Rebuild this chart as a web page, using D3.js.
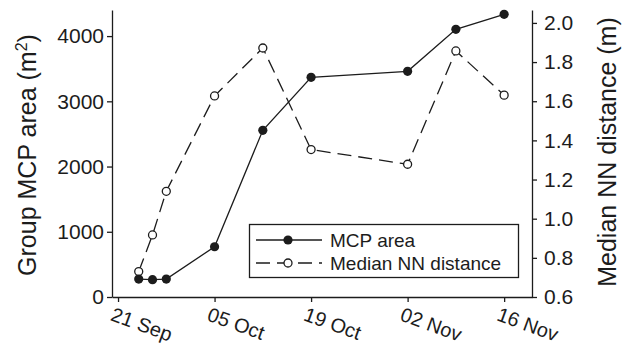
<!DOCTYPE html>
<html>
<head>
<meta charset="utf-8">
<script src="https://cdn.jsdelivr.net/npm/d3@7"></script>
<style>
  html, body { margin: 0; padding: 0; background: #fff; }
  svg { display: block; font-family: "Liberation Sans", Arial, Helvetica, sans-serif; }
</style>
</head>
<body>
<svg id="chart" width="630" height="347"></svg>
<script>
// Sampling dates (day, month index) and the two measured series
const sampleDates = [[24, 8], [26, 8], [28, 8], [5, 9], [12, 9], [19, 9], [2, 10], [9, 10], [16, 10]];
const mcpArea = [275, 265, 275, 770, 2555, 3368, 3460, 4104, 4334];
const nnDistance = [0.73, 0.917, 1.14, 1.627, 1.872, 1.353, 1.278, 1.857, 1.631];

// Axis ticks
const dateTicks = [[21, 8], [5, 9], [19, 9], [2, 10], [16, 10]];
const dateTickLabels = ["21 Sep", "05 Oct", "19 Oct", "02 Nov", "16 Nov"];
const leftTicks = [0, 1000, 2000, 3000, 4000];
const rightTicks = [0.6, 0.8, 1.0, 1.2, 1.4, 1.6, 1.8, 2.0];

const YEAR = 2010;
const toDate = ([d, m]) => new Date(Date.UTC(YEAR, m, d));

const svg = d3.select("#chart");
const ink = "#1c1c1c";

const plot = { left: 112, right: 532, top: 10, bottom: 297 };

const x = d3.scaleUtc()
  .domain([new Date(Date.UTC(YEAR, 8, 20, 3)), new Date(Date.UTC(YEAR, 10, 20, 1))])
  .range([plot.left, plot.right]);
const yL = d3.scaleLinear().domain([0, 4400]).range([plot.bottom, plot.top]);
const yR = d3.scaleLinear().domain([0.6, 2.066]).range([plot.bottom, plot.top]);

const rows = sampleDates.map((d, i) => ({ date: toDate(d), mcp: mcpArea[i], nn: nnDistance[i] }));

// Bottom axis with slanted date labels
const xAxis = svg.append("g")
  .attr("transform", `translate(0,${plot.bottom})`)
  .call(d3.axisBottom(x)
    .tickValues(dateTicks.map(toDate))
    .tickSize(5)
    .tickSizeOuter(0)
    .tickFormat((d, i) => dateTickLabels[i]));
xAxis.selectAll("text")
  .attr("y", 0).attr("dy", 0)
  .attr("text-anchor", "start")
  .attr("transform", "translate(-9,23) rotate(20)")
  .style("font-size", "20px");

// Left axis
const leftAxis = svg.append("g")
  .attr("transform", `translate(${plot.left},0)`)
  .call(d3.axisLeft(yL).tickValues(leftTicks).tickSize(5).tickSizeOuter(0).tickFormat(d3.format("d")));
leftAxis.selectAll("text").attr("x", -8).style("font-size", "21px");

// Right axis
const rightAxis = svg.append("g")
  .attr("transform", `translate(${plot.right},0)`)
  .call(d3.axisRight(yR).tickValues(rightTicks).tickSize(5).tickSizeOuter(0).tickFormat(d3.format(".1f")));
rightAxis.selectAll("text").attr("x", 12).style("font-size", "21px");

svg.selectAll(".domain, .tick line").attr("stroke", ink).attr("stroke-width", 1.3);
svg.selectAll(".tick text").attr("fill", ink);

// Axis titles
svg.append("text")
  .attr("transform", `translate(36,155) rotate(-90)`)
  .attr("text-anchor", "middle")
  .attr("fill", ink)
  .style("font-size", "25px")
  .call(t => {
    t.append("tspan").text("Group MCP area (m");
    t.append("tspan").attr("dy", -9).style("font-size", "16px").text("2");
    t.append("tspan").attr("dy", 9).text(")");
  });

svg.append("text")
  .attr("transform", `translate(616,152) rotate(-90)`)
  .attr("text-anchor", "middle")
  .attr("fill", ink)
  .style("font-size", "25px")
  .text("Median NN distance (m)");

// Series lines
const lineMcp = d3.line().x(d => x(d.date)).y(d => yL(d.mcp));
const lineNn = d3.line().x(d => x(d.date)).y(d => yR(d.nn));

svg.append("path").datum(rows)
  .attr("d", lineNn)
  .attr("fill", "none").attr("stroke", ink).attr("stroke-width", 1.3)
  .attr("stroke-dasharray", "14,7");

svg.append("path").datum(rows)
  .attr("d", lineMcp)
  .attr("fill", "none").attr("stroke", ink).attr("stroke-width", 1.3);

svg.append("g").selectAll("circle").data(rows).join("circle")
  .attr("cx", d => x(d.date)).attr("cy", d => yR(d.nn)).attr("r", 4)
  .attr("fill", "#fff").attr("stroke", ink).attr("stroke-width", 1.3);

svg.append("g").selectAll("circle").data(rows).join("circle")
  .attr("cx", d => x(d.date)).attr("cy", d => yL(d.mcp)).attr("r", 4.6)
  .attr("fill", ink);

// Legend
const legend = svg.append("g");
legend.append("rect")
  .attr("x", 249.5).attr("y", 224.5).attr("width", 269).attr("height", 53)
  .attr("fill", "#fff").attr("stroke", ink).attr("stroke-width", 1.3);

const legendItems = [
  { label: "MCP area", y: 240, dash: null, filled: true },
  { label: "Median NN distance", y: 263, dash: "14,7", filled: false }
];
legendItems.forEach(it => {
  legend.append("line")
    .attr("x1", 256).attr("x2", 322).attr("y1", it.y).attr("y2", it.y)
    .attr("stroke", ink).attr("stroke-width", 1.3)
    .attr("stroke-dasharray", it.dash);
  legend.append("circle")
    .attr("cx", 288).attr("cy", it.y).attr("r", it.filled ? 4.6 : 4)
    .attr("fill", it.filled ? ink : "#fff")
    .attr("stroke", ink).attr("stroke-width", it.filled ? 0 : 1.3);
  legend.append("text")
    .attr("x", 330).attr("y", it.y).attr("dy", "0.35em")
    .attr("fill", ink).style("font-size", "19px")
    .text(it.label);
});
</script>
</body>
</html>
